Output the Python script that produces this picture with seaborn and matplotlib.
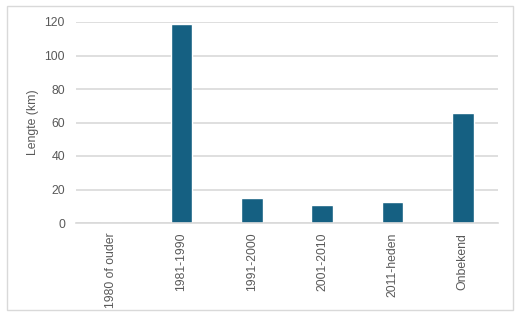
import matplotlib
matplotlib.use("Agg")
import matplotlib.pyplot as plt
import seaborn as sns
import pandas as pd
from matplotlib.patches import Rectangle

# data
periodes = ['1980 of ouder', '1981-1990', '1991-2000', '2001-2010', '2011-heden', 'Onbekend']
lengte_km = [0, 119, 15, 11, 12.5, 65.5]

df = pd.DataFrame({'Periode': periodes, 'Lengte': lengte_km})

sns.set_style('white')
plt.rcParams['font.family'] = ['Liberation Sans', 'DejaVu Sans']

fig = plt.figure(figsize=(5.2, 3.14), dpi=100)
ax = fig.add_axes([76/520, 1 - 223/314, 422/520, 201/314])

sns.barplot(data=df, x='Periode', y='Lengte', color='#156082', width=0.31,
            saturation=1, ax=ax)

ax.set_ylim(0, 120)
ax.set_yticks([0, 20, 40, 60, 80, 100, 120])
ax.yaxis.grid(True, color='#d9d9d9', linewidth=1.2)
ax.set_axisbelow(True)
for s in ['top', 'right', 'left']:
    ax.spines[s].set_visible(False)
ax.spines['bottom'].set_color('#d9d9d9')
ax.spines['bottom'].set_linewidth(1.2)
ax.tick_params(axis='both', length=0, colors='#595959', labelsize=8.8)
ax.tick_params(axis='y', pad=8)
ax.tick_params(axis='x', rotation=90, pad=7)
ax.set_xlabel('')
ax.set_ylabel('Lengte (km)', color='#595959', fontsize=8.8, labelpad=4)

# outer chart border
fig.add_artist(Rectangle((6.5/520, 4/314), 506/520, 304/314, transform=fig.transFigure,
                         fill=False, edgecolor='#d9d9d9', linewidth=1))

plt.savefig('out.png', dpi=100, facecolor='white')
